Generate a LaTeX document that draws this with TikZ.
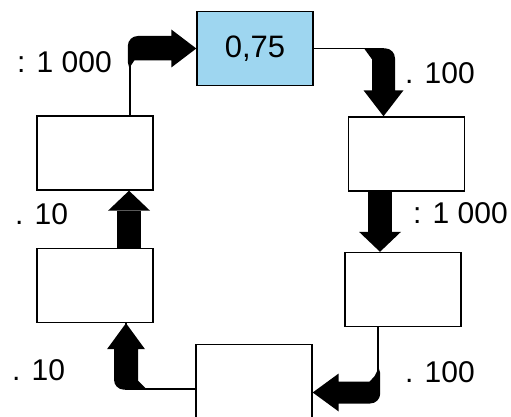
\documentclass[tikz,border=0pt]{standalone}
\usepackage{fontspec}
\setmainfont{Liberation Sans}
\usetikzlibrary{arrows.meta}

\begin{document}
\begin{tikzpicture}[x=1pt, y=1pt,
    box/.style={rectangle, draw, line width=1.4pt, minimum width=116pt, minimum height=74pt, inner sep=0pt, font=\fontsize{31}{36}\selectfont},
    link/.style={line width=1.4pt},
    fatarrow/.style={line width=24pt, -{Triangle[length=20pt, width=42pt, line width=0pt]}},
    fatbend/.style={fill=black},
    factor/.style={inner sep=0pt, anchor=west, font=\fontsize{30}{36}\selectfont}]

    % Define colors
    \definecolor{startcolor}{RGB}{158,214,240}

    \useasboundingbox (0,0) rectangle (511,-417);

    % Boxes
    \node[box, fill=startcolor] (start) at (255,-48.5) {0,75};
    \node[box] (right1) at (406.5,-154) {};
    \node[box] (right2) at (403,-289.5) {};
    \node[box] (bottom) at (254,-381.5) {};
    \node[box] (left2) at (95,-285.5) {};
    \node[box] (left1) at (95,-153) {};

    % Factors
    \node[factor] (f1) at (17,-62.5) {: 1 000};
    \node[factor] (f2) at (405,-73) {. 100};
    \node[factor] (f3) at (15,-214) {. 10};
    \node[factor] (f4) at (413,-213) {: 1 000};
    \node[factor] (f5) at (12,-370) {. 10};
    \node[factor] (f6) at (405,-372) {. 100};

    % Thin lines
    \draw[link] ([xshift=35]left1.north) |- (start.west);
    \draw[link] (start.east) -| ([xshift=-23]right1.north);
    \draw[link] ([xshift=-25]right2.south) |- ([yshift=-11]bottom.east);
    \draw[link] ([yshift=-7.5]bottom.west) -| ([xshift=31]left2.south);

    % Fat ends of the bent arrows
    \fill[fatbend] (start.west) -- ++(-25,19) -- ++(0,-6.5) -- ++(-33.5,0)
        arc[start angle=90, end angle=180, radius=10] -- ++(0,-16) -- ++(1.5,-6)
        -- ++(5,7.5) -- ++(37,0) -- ++(0,-7) -- cycle;
    \fill[fatbend] ([xshift=-23]right1.north) -- ++(-20,26) -- ++(8.5,0) -- ++(0,31)
        -- ++(-8,11) -- ++(21,0) arc[start angle=90, end angle=0, radius=10]
        -- ++(0,-32) -- ++(8.5,0) -- cycle;
    \fill[fatbend] ([yshift=-11]bottom.east) -- ++(26,19) -- ++(0,-8) -- ++(31,0)
        -- ++(5,5.5) -- ++(4,8) -- ++(1.5,-5) -- ++(0,-20.5)
        arc[start angle=0, end angle=-90, radius=10] -- ++(-31.5,0) -- ++(0,-8) -- cycle;
    \fill[fatbend] ([xshift=31]left2.south) -- ++(19,-26) -- ++(-7,0) -- ++(0,-31.5)
        -- ++(9,-9) -- ++(-23,0) arc[start angle=-90, end angle=-180, radius=10]
        -- ++(0,30.5) -- ++(-7,0) -- cycle;

    % Straight arrows
    \draw[fatarrow] ([xshift=-26.5]right1.south) -- ([xshift=-23]right2.north);
    \draw[fatarrow] ([xshift=34]left2.north) -- ([xshift=34]left1.south);

\end{tikzpicture}
\end{document}
